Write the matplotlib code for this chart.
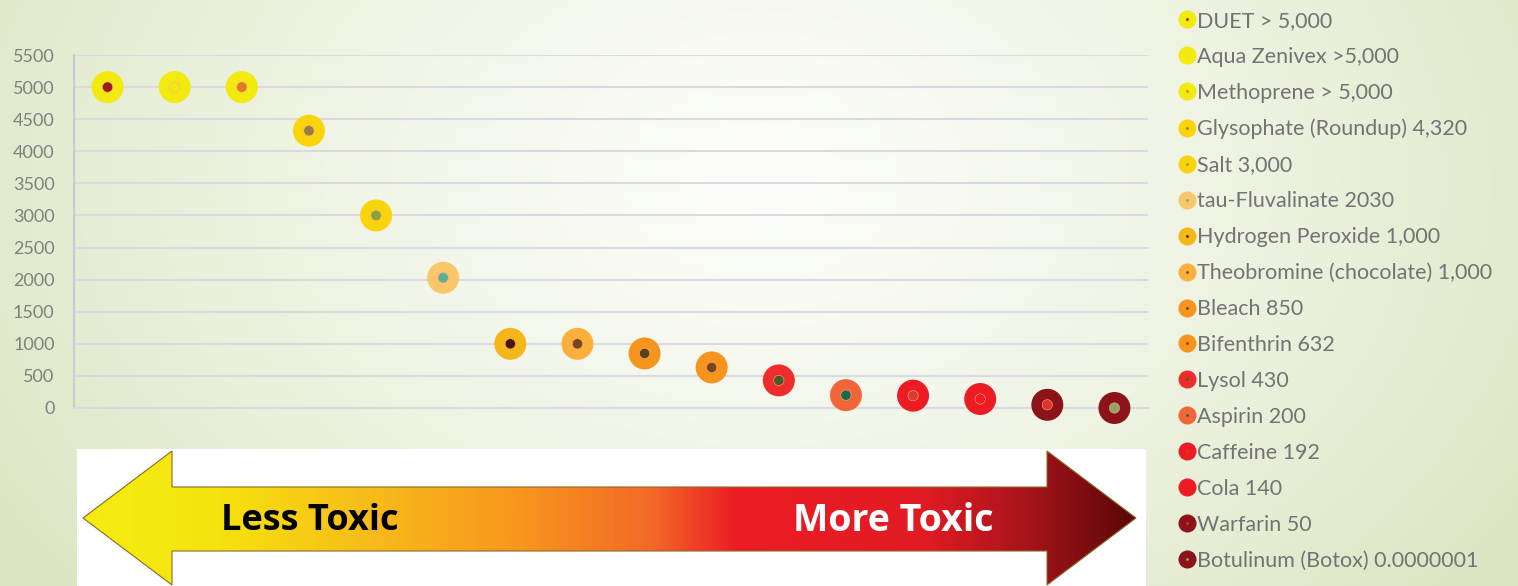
import numpy as np
import matplotlib.pyplot as plt
from matplotlib.lines import Line2D
from matplotlib.legend_handler import HandlerTuple
from matplotlib.colors import LinearSegmentedColormap, to_rgb
from matplotlib.path import Path
from matplotlib.patches import PathPatch

plt.rcParams['font.family'] = ['Lato', 'DejaVu Sans']

# ---------------- data ----------------
labels = ['DUET > 5,000', 'Aqua Zenivex >5,000', 'Methoprene > 5,000',
          'Glysophate (Roundup) 4,320', 'Salt 3,000', 'tau-Fluvalinate 2030',
          'Hydrogen Peroxide 1,000', 'Theobromine (chocolate) 1,000',
          'Bleach 850', 'Bifenthrin 632', 'Lysol 430', 'Aspirin 200',
          'Caffeine 192', 'Cola 140', 'Warfarin 50', 'Botulinum (Botox) 0.0000001']
ld50 = [5000, 5000, 5000, 4320, 3000, 2030, 1000, 1000, 850, 632, 430, 200,
        192, 140, 50, 0.0000001]
outer_colors = ['#F2E90F', '#F2E90F', '#F2E90F', '#F9D40A', '#F9D40A', '#F9C66A',
                '#F4B71A', '#FBB03B', '#F7941E', '#F7941E', '#EE2C2C', '#F26539',
                '#ED1C24', '#ED1C24', '#8B1319', '#8B1319']
inner_colors = ['#9B1C1F', '#F2E90F', '#E07B22', '#9A7B45', '#8BA23A', '#5EAE94',
                '#4A1508', '#7A4319', '#5A4217', '#7A4519', '#4D5A25', '#1D6650',
                '#DC3A2E', '#ED1C24', '#E0322A', '#8FA566']
yticks = np.arange(0, 5501, 500)

W, H = 1518, 586
fig = plt.figure(figsize=(W / 100, H / 100), dpi=100)

# background gradient (light green edges, white centre)
bg = fig.add_axes([0, 0, 1, 1], zorder=-10)
bg.axis('off')
gx, gy = np.meshgrid(np.arange(W), np.arange(H))
t = np.clip(np.sqrt(((gx - 760) / 900.0) ** 2 + ((gy - 180) / 650.0) ** 2), 0, 1) ** 1.3
white = np.array(to_rgb('#FCFDFA'))
green = np.array(to_rgb('#DCE6C3'))
img = white[None, None, :] * (1 - t[..., None]) + green[None, None, :] * t[..., None]
bg.imshow(img, aspect='auto', extent=(0, W, H, 0))
bg.set_xlim(0, W)
bg.set_ylim(H, 0)

# ---------------- main chart ----------------
ax = fig.add_axes([74 / W, 1 - 408 / H, (1148 - 74) / W, (408 - 55) / H])
ax.patch.set_alpha(0)
x = np.arange(len(ld50))
ax.scatter(x, ld50, s=530, c=outer_colors, linewidths=0, zorder=3, clip_on=False)
ax.scatter(x, ld50, s=55, c=inner_colors, edgecolors='#F6B08A', linewidths=0.4,
           zorder=4, clip_on=False)

ax.set_xlim(-0.5, len(ld50) - 0.5)
ax.set_ylim(0, 5500)
ax.set_yticks(yticks)
ax.set_xticks([])
ax.tick_params(axis='y', length=0, pad=14, labelsize=13, labelcolor='#7F7F7F')
ax.yaxis.grid(True, color='#D9D9DF', lw=1.5)
ax.set_axisbelow(True)
for s in ['top', 'right']:
    ax.spines[s].set_visible(False)
ax.spines['left'].set_color('#C9C9CE')
ax.spines['left'].set_linewidth(1.5)
ax.spines['bottom'].set_color('#D9D9DF')
ax.spines['bottom'].set_linewidth(1.5)

# legend
handles = [(Line2D([], [], marker='o', ls='', ms=13, mfc=o, mec='none'),
            Line2D([], [], marker='o', ls='', ms=2, mfc=i, mec='none'))
           for o, i in zip(outer_colors, inner_colors)]
fig.legend(handles, labels, loc='upper left', bbox_to_anchor=(1177 / W, 1 - 11 / H),
           frameon=False, handler_map={tuple: HandlerTuple(ndivide=1, pad=0)},
           handlelength=0.9, handletextpad=0.05, labelspacing=0.74,
           borderpad=0, borderaxespad=0, fontsize=15.5, labelcolor='#737373')

# ---------------- toxicity arrow ----------------
aw = fig.add_axes([77 / W, 0, (1146 - 77) / W, (586 - 449) / H])
aw.set_xlim(0, 1069)
aw.set_ylim(0, 137)
aw.set_facecolor('white')
aw.set_xticks([])
aw.set_yticks([])
for s in aw.spines.values():
    s.set_visible(False)

verts = [(6, 68), (95, 135), (95, 99), (970, 99), (970, 135), (1059, 68),
         (970, 1), (970, 35), (95, 35), (95, 1), (6, 68)]
codes = [Path.MOVETO] + [Path.LINETO] * (len(verts) - 2) + [Path.CLOSEPOLY]
arrow = PathPatch(Path(verts, codes), facecolor='none', edgecolor='#8A6A2A', lw=0.8, zorder=3)
aw.add_patch(arrow)
cmap = LinearSegmentedColormap.from_list('tox', [
    (0.0, '#F4EC12'), (0.12, '#F5E40E'), (0.27, '#F7BC1A'), (0.42, '#F7941E'),
    (0.54, '#F26A27'), (0.62, '#ED1C24'), (0.80, '#E11B23'), (0.90, '#A5141A'),
    (1.0, '#5A0808')])
grad = np.linspace(0, 1, 512)[None, :]
im = aw.imshow(grad, cmap=cmap, aspect='auto', extent=(6, 1059, 1, 135), zorder=2)
im.set_clip_path(arrow)
aw.text(310 - 77, 65, 'Less Toxic', ha='center', va='center', fontsize=26,
        fontweight='bold', family=['Open Sans', 'DejaVu Sans'], color='black', zorder=4)
aw.text(893 - 77, 65, 'More Toxic', ha='center', va='center', fontsize=27,
        fontweight='bold', family=['Open Sans', 'DejaVu Sans'], color='white', zorder=4)

fig.savefig('out.png', dpi=100)
